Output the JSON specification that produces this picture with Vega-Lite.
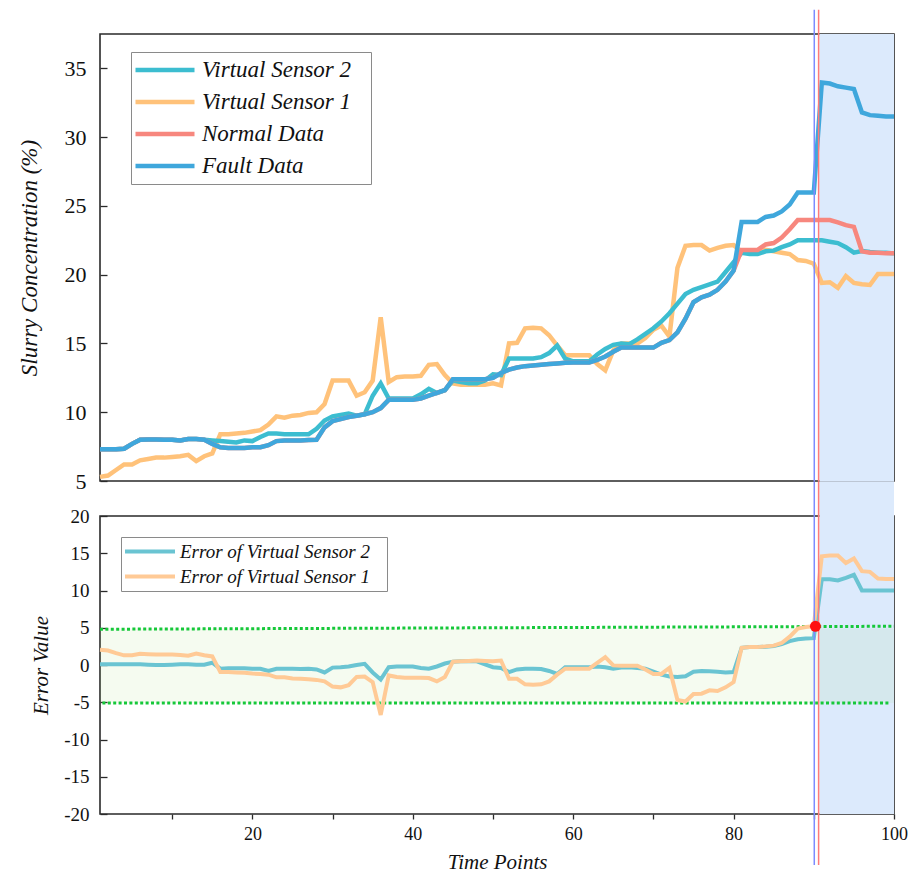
{
  "$schema": "https://vega.github.io/schema/vega-lite/v6.json",
  "padding": {"left": 17, "top": 8, "right": 2, "bottom": 4},
  "background": "white",
  "spacing": 35,
  "bounds": "flush",
  "datasets": {
    "series": [
      {"t":1,"f":7.3,"n":7.3,"s2":7.3,"s1":5.3,"e2":0.1,"e1":2.05},
      {"t":2,"f":7.3,"n":7.3,"s2":7.3,"s1":5.4,"e2":0.1,"e1":1.95},
      {"t":3,"f":7.3,"n":7.3,"s2":7.3,"s1":5.8,"e2":0.1,"e1":1.6},
      {"t":4,"f":7.35,"n":7.35,"s2":7.35,"s1":6.2,"e2":0.1,"e1":1.3},
      {"t":5,"f":7.7,"n":7.7,"s2":7.7,"s1":6.2,"e2":0.1,"e1":1.3},
      {"t":6,"f":8.0,"n":8.0,"s2":8.0,"s1":6.5,"e2":0.1,"e1":1.5},
      {"t":7,"f":8.02,"n":8.02,"s2":8.02,"s1":6.6,"e2":0.05,"e1":1.45},
      {"t":8,"f":8.02,"n":8.02,"s2":8.02,"s1":6.7,"e2":0.0,"e1":1.4},
      {"t":9,"f":8.0,"n":8.0,"s2":8.0,"s1":6.7,"e2":0.0,"e1":1.4},
      {"t":10,"f":8.0,"n":8.0,"s2":8.0,"s1":6.75,"e2":0.05,"e1":1.4},
      {"t":11,"f":7.95,"n":7.95,"s2":7.95,"s1":6.8,"e2":0.1,"e1":1.35},
      {"t":12,"f":8.05,"n":8.05,"s2":8.05,"s1":6.9,"e2":0.1,"e1":1.25},
      {"t":13,"f":8.05,"n":8.05,"s2":8.05,"s1":6.45,"e2":0.05,"e1":1.55},
      {"t":14,"f":8.0,"n":8.0,"s2":8.0,"s1":6.8,"e2":0.05,"e1":1.3},
      {"t":15,"f":7.7,"n":7.7,"s2":7.95,"s1":7.0,"e2":0.3,"e1":1.15},
      {"t":16,"f":7.45,"n":7.45,"s2":7.9,"s1":8.4,"e2":-0.5,"e1":-0.95},
      {"t":17,"f":7.4,"n":7.4,"s2":7.85,"s1":8.4,"e2":-0.45,"e1":-0.95},
      {"t":18,"f":7.4,"n":7.4,"s2":7.8,"s1":8.45,"e2":-0.45,"e1":-1.0},
      {"t":19,"f":7.4,"n":7.4,"s2":7.95,"s1":8.5,"e2":-0.45,"e1":-1.05},
      {"t":20,"f":7.45,"n":7.45,"s2":7.9,"s1":8.6,"e2":-0.5,"e1":-1.15},
      {"t":21,"f":7.45,"n":7.45,"s2":8.2,"s1":8.7,"e2":-0.5,"e1":-1.2},
      {"t":22,"f":7.6,"n":7.6,"s2":8.45,"s1":9.1,"e2":-0.8,"e1":-1.3},
      {"t":23,"f":7.9,"n":7.9,"s2":8.45,"s1":9.7,"e2":-0.5,"e1":-1.65},
      {"t":24,"f":7.95,"n":7.95,"s2":8.4,"s1":9.6,"e2":-0.5,"e1":-1.65},
      {"t":25,"f":7.95,"n":7.95,"s2":8.4,"s1":9.75,"e2":-0.5,"e1":-1.8},
      {"t":26,"f":7.95,"n":7.95,"s2":8.4,"s1":9.8,"e2":-0.55,"e1":-1.85},
      {"t":27,"f":7.98,"n":7.98,"s2":8.4,"s1":9.95,"e2":-0.5,"e1":-1.9},
      {"t":28,"f":8.0,"n":8.0,"s2":8.8,"s1":10.0,"e2":-0.6,"e1":-2.0},
      {"t":29,"f":8.9,"n":8.9,"s2":9.4,"s1":10.6,"e2":-1.0,"e1":-2.2},
      {"t":30,"f":9.35,"n":9.35,"s2":9.7,"s1":12.3,"e2":-0.35,"e1":-2.9},
      {"t":31,"f":9.5,"n":9.5,"s2":9.8,"s1":12.3,"e2":-0.3,"e1":-3.0},
      {"t":32,"f":9.65,"n":9.65,"s2":9.9,"s1":12.3,"e2":-0.2,"e1":-2.7},
      {"t":33,"f":9.75,"n":9.75,"s2":9.75,"s1":11.2,"e2":0.0,"e1":-1.6},
      {"t":34,"f":9.85,"n":9.85,"s2":9.85,"s1":11.45,"e2":0.15,"e1":-1.55},
      {"t":35,"f":10.0,"n":10.0,"s2":11.2,"s1":12.3,"e2":-1.0,"e1":-2.3},
      {"t":36,"f":10.3,"n":10.3,"s2":12.1,"s1":16.9,"e2":-1.95,"e1":-6.7},
      {"t":37,"f":10.9,"n":10.9,"s2":11.0,"s1":12.2,"e2":-0.3,"e1":-1.4},
      {"t":38,"f":10.9,"n":10.9,"s2":11.0,"s1":12.55,"e2":-0.2,"e1":-1.6},
      {"t":39,"f":10.9,"n":10.9,"s2":11.0,"s1":12.6,"e2":-0.2,"e1":-1.7},
      {"t":40,"f":10.9,"n":10.9,"s2":11.0,"s1":12.6,"e2":-0.2,"e1":-1.7},
      {"t":41,"f":11.0,"n":11.0,"s2":11.3,"s1":12.65,"e2":-0.4,"e1":-1.7},
      {"t":42,"f":11.2,"n":11.2,"s2":11.7,"s1":13.45,"e2":-0.5,"e1":-1.75},
      {"t":43,"f":11.4,"n":11.4,"s2":11.4,"s1":13.5,"e2":-0.2,"e1":-2.2},
      {"t":44,"f":11.6,"n":11.6,"s2":11.6,"s1":12.7,"e2":0.2,"e1":-1.6},
      {"t":45,"f":12.4,"n":12.4,"s2":12.3,"s1":12.1,"e2":0.45,"e1":0.45},
      {"t":46,"f":12.4,"n":12.4,"s2":12.2,"s1":12.0,"e2":0.5,"e1":0.5},
      {"t":47,"f":12.4,"n":12.4,"s2":12.1,"s1":12.0,"e2":0.5,"e1":0.55},
      {"t":48,"f":12.4,"n":12.4,"s2":12.1,"s1":12.0,"e2":0.5,"e1":0.6},
      {"t":49,"f":12.4,"n":12.4,"s2":12.3,"s1":12.0,"e2":0.1,"e1":0.55},
      {"t":50,"f":12.5,"n":12.5,"s2":12.75,"s1":12.1,"e2":-0.3,"e1":0.5},
      {"t":51,"f":12.85,"n":12.85,"s2":12.7,"s1":11.95,"e2":-0.4,"e1":0.6},
      {"t":52,"f":13.1,"n":13.1,"s2":13.9,"s1":15.0,"e2":-0.95,"e1":-1.85},
      {"t":53,"f":13.25,"n":13.25,"s2":13.9,"s1":15.05,"e2":-0.6,"e1":-1.85},
      {"t":54,"f":13.35,"n":13.35,"s2":13.9,"s1":16.1,"e2":-0.5,"e1":-2.6},
      {"t":55,"f":13.4,"n":13.4,"s2":13.9,"s1":16.15,"e2":-0.5,"e1":-2.65},
      {"t":56,"f":13.45,"n":13.45,"s2":14.0,"s1":16.1,"e2":-0.55,"e1":-2.6},
      {"t":57,"f":13.5,"n":13.5,"s2":14.3,"s1":15.6,"e2":-0.8,"e1":-2.2},
      {"t":58,"f":13.55,"n":13.55,"s2":14.85,"s1":14.85,"e2":-1.2,"e1":-1.3},
      {"t":59,"f":13.6,"n":13.6,"s2":13.9,"s1":14.15,"e2":-0.3,"e1":-0.5},
      {"t":60,"f":13.62,"n":13.62,"s2":13.7,"s1":14.15,"e2":-0.3,"e1":-0.5},
      {"t":61,"f":13.62,"n":13.62,"s2":13.7,"s1":14.15,"e2":-0.3,"e1":-0.5},
      {"t":62,"f":13.62,"n":13.62,"s2":13.7,"s1":14.15,"e2":-0.3,"e1":-0.5},
      {"t":63,"f":13.8,"n":13.8,"s2":14.2,"s1":13.5,"e2":-0.2,"e1":0.3},
      {"t":64,"f":14.05,"n":14.05,"s2":14.6,"s1":13.05,"e2":-0.3,"e1":1.05},
      {"t":65,"f":14.4,"n":14.4,"s2":14.9,"s1":14.5,"e2":-0.5,"e1":-0.05},
      {"t":66,"f":14.7,"n":14.7,"s2":15.0,"s1":15.0,"e2":-0.35,"e1":-0.1},
      {"t":67,"f":14.7,"n":14.7,"s2":14.95,"s1":15.0,"e2":-0.3,"e1":-0.1},
      {"t":68,"f":14.7,"n":14.7,"s2":15.3,"s1":15.0,"e2":-0.4,"e1":-0.1},
      {"t":69,"f":14.7,"n":14.7,"s2":15.7,"s1":15.4,"e2":-0.5,"e1":-0.6},
      {"t":70,"f":14.7,"n":14.7,"s2":16.1,"s1":16.0,"e2":-0.9,"e1":-1.2},
      {"t":71,"f":15.05,"n":15.05,"s2":16.6,"s1":16.3,"e2":-1.3,"e1":-1.2},
      {"t":72,"f":15.25,"n":15.25,"s2":17.2,"s1":15.5,"e2":-1.55,"e1":-0.4},
      {"t":73,"f":15.8,"n":15.8,"s2":17.9,"s1":20.5,"e2":-1.6,"e1":-4.7},
      {"t":74,"f":16.8,"n":16.8,"s2":18.6,"s1":22.1,"e2":-1.5,"e1":-4.9},
      {"t":75,"f":18.0,"n":18.0,"s2":18.9,"s1":22.15,"e2":-0.9,"e1":-3.9},
      {"t":76,"f":18.35,"n":18.35,"s2":19.1,"s1":22.15,"e2":-0.8,"e1":-3.85},
      {"t":77,"f":18.55,"n":18.55,"s2":19.3,"s1":21.75,"e2":-0.85,"e1":-3.4},
      {"t":78,"f":18.9,"n":18.9,"s2":19.5,"s1":21.95,"e2":-0.9,"e1":-3.5},
      {"t":79,"f":19.5,"n":19.5,"s2":20.2,"s1":22.1,"e2":-1.0,"e1":-3.0},
      {"t":80,"f":20.3,"n":20.3,"s2":20.9,"s1":22.15,"e2":-0.95,"e1":-2.3},
      {"t":81,"f":23.84,"n":21.8,"s2":21.6,"s1":21.65,"e2":2.3,"e1":2.3},
      {"t":82,"f":23.84,"n":21.8,"s2":21.5,"s1":21.6,"e2":2.4,"e1":2.4},
      {"t":83,"f":23.84,"n":21.8,"s2":21.5,"s1":21.6,"e2":2.4,"e1":2.4},
      {"t":84,"f":24.2,"n":22.2,"s2":21.7,"s1":21.8,"e2":2.45,"e1":2.5},
      {"t":85,"f":24.3,"n":22.3,"s2":21.75,"s1":21.7,"e2":2.55,"e1":2.6},
      {"t":86,"f":24.6,"n":22.7,"s2":22.0,"s1":21.6,"e2":2.8,"e1":2.95},
      {"t":87,"f":25.1,"n":23.3,"s2":22.2,"s1":21.5,"e2":3.2,"e1":3.8},
      {"t":88,"f":25.97,"n":23.97,"s2":22.5,"s1":21.06,"e2":3.45,"e1":4.9},
      {"t":89,"f":25.97,"n":23.97,"s2":22.5,"s1":21.0,"e2":3.55,"e1":5.1},
      {"t":90,"f":25.97,"n":23.97,"s2":22.5,"s1":20.8,"e2":3.6,"e1":5.2},
      {"t":91,"f":33.97,"n":23.97,"s2":22.5,"s1":19.4,"e2":11.5,"e1":14.6},
      {"t":92,"f":33.9,"n":23.97,"s2":22.4,"s1":19.45,"e2":11.5,"e1":14.7},
      {"t":93,"f":33.7,"n":23.8,"s2":22.3,"s1":19.05,"e2":11.35,"e1":14.7},
      {"t":94,"f":33.6,"n":23.6,"s2":22.0,"s1":19.9,"e2":11.7,"e1":13.7},
      {"t":95,"f":33.5,"n":23.48,"s2":21.6,"s1":19.4,"e2":12.1,"e1":14.3},
      {"t":96,"f":31.8,"n":21.7,"s2":21.72,"s1":19.3,"e2":10.0,"e1":12.6},
      {"t":97,"f":31.6,"n":21.6,"s2":21.65,"s1":19.25,"e2":10.0,"e1":12.5},
      {"t":98,"f":31.55,"n":21.6,"s2":21.6,"s1":20.05,"e2":10.0,"e1":11.6},
      {"t":99,"f":31.5,"n":21.55,"s2":21.6,"s1":20.05,"e2":10.0,"e1":11.55},
      {"t":100,"f":31.5,"n":21.55,"s2":21.55,"s1":20.05,"e2":10.0,"e1":11.55}
    ],
    "region": [{"start": 90.7, "end": 100, "fault": 90.06, "detect": 90.6}],
    "band": [{"x1": 1, "x2": 100, "lo": -5.1, "hi": 4.9}],
    "limits": [
      {"x1": 1, "y1": 4.8, "x2": 100, "y2": 5.2},
      {"x1": 1.3, "y1": -5.1, "x2": 99.6, "y2": -5.1}
    ],
    "alarm": [{"t": 90.2, "e": 5.2}]
  },
  "vconcat": [
    {
      "width": 794,
      "height": 447,
      "layer": [
        {
          "data": {"name": "region"},
          "mark": {"type": "rect", "color": "#dceafc"},
          "encoding": {
            "x": {"field": "start", "type": "quantitative", "scale": {"domain": [1, 100], "nice": false, "zero": false}, "axis": null},
            "x2": {"field": "end"}
          }
        },
        {
          "data": {"name": "series"},
          "transform": [{"fold": ["s1", "s2", "n", "f"], "as": ["key", "value"]}],
          "encoding": {
            "x": {"field": "t", "type": "quantitative", "axis": null},
            "y": {
              "field": "value", "type": "quantitative",
              "scale": {"domain": [5, 37.5], "nice": false, "zero": false},
              "axis": {
                "values": [5, 10, 15, 20, 25, 30, 35],
                "title": "Slurry Concentration (%)",
                "titleFontSize": 23,
                "titlePadding": 23,
                "labelFontSize": 22,
                "tickSize": -7,
                "labelPadding": 21,
                "labelOverlap": false,
                "domain": false
              }
            },
            "color": {
              "field": "key", "type": "nominal",
              "scale": {"domain": ["s2", "s1", "n", "f"], "range": ["#3cbdd0", "#ffc27a", "#f7877e", "#3fa7dc"]},
              "legend": {
                "title": null,
                "orient": "none",
                "legendX": 31,
                "legendY": 18,
                "symbolType": "stroke",
                "symbolSize": 3481,
                "symbolStrokeWidth": 4.5,
                "labelFont": "Times New Roman",
                "labelFontStyle": "italic",
                "labelFontSize": 23,
                "labelColor": "#111111",
                "labelOffset": 5,
                "labelLimit": 400,
                "clipHeight": 32,
                "rowPadding": 0,
                "padding": 2,
                "strokeColor": "#8a8a8a",
                "fillColor": "white",
                "labelExpr": "({'s2':'Virtual Sensor 2','s1':'Virtual Sensor 1','n':'Normal Data','f':'Fault Data'})[datum.label] + '\u2800'"
              }
            }
          },
          "layer": [
            {"transform": [{"filter": {"field": "key", "equal": "s1"}}], "mark": {"type": "line", "strokeWidth": 4.5}},
            {"transform": [{"filter": {"field": "key", "equal": "s2"}}], "mark": {"type": "line", "strokeWidth": 4.5}},
            {"transform": [{"filter": {"field": "key", "equal": "n"}}], "mark": {"type": "line", "strokeWidth": 4.5}},
            {"transform": [{"filter": {"field": "key", "equal": "f"}}], "mark": {"type": "line", "strokeWidth": 4.5}}
          ]
        },
        {
          "data": {"name": "region"},
          "mark": {"type": "rule", "color": "#7d8bff", "strokeWidth": 1.5},
          "encoding": {
            "x": {"field": "fault", "type": "quantitative", "axis": null},
            "y": {"datum": 39.27},
            "y2": {"datum": 5}
          }
        },
        {
          "data": {"name": "region"},
          "mark": {"type": "rule", "color": "#ff7a7a", "strokeWidth": 1.5},
          "encoding": {
            "x": {"field": "detect", "type": "quantitative", "axis": null},
            "y": {"datum": 39.27},
            "y2": {"datum": 5}
          }
        }
      ]
    },
    {
      "width": 794,
      "height": 298,
      "encoding": {
        "x": {
          "type": "quantitative",
          "scale": {"domain": [1, 100], "nice": false, "zero": false},
          "axis": {
            "values": [10, 20, 30, 40, 50, 60, 70, 80, 90, 100],
            "labelExpr": "datum.value % 20 == 0 ? datum.label : ''",
            "title": "Time Points",
            "titleFontSize": 21,
            "titlePadding": 8,
            "labelFontSize": 18,
            "labelFlush": false,
            "labelOverlap": false,
            "tickSize": 5,
            "labelPadding": 6,
            "domain": false
          }
        },
        "y": {
          "type": "quantitative",
          "scale": {"domain": [-20, 20], "nice": false, "zero": false},
          "axis": {
            "values": [-20, -15, -10, -5, 0, 5, 10, 15, 20],
            "labelExpr": "toString(datum.value)",
            "title": "Error Value",
            "titleFontSize": 21,
            "titlePadding": 12,
            "labelFontSize": 19,
            "labelOverlap": false,
            "labelSeparation": 0,
            "tickSize": -7,
            "labelPadding": 18,
            "domain": false
          }
        }
      },
      "layer": [
        {
          "data": {"name": "region"},
          "mark": {"type": "rect", "color": "#dceafc"},
          "encoding": {
            "x": {"field": "start"},
            "x2": {"field": "end"},
            "y": {"datum": -20},
            "y2": {"datum": 24.66}
          }
        },
        {
          "data": {"name": "band"},
          "mark": {"type": "rect", "color": "#9fd36b", "opacity": 0.1},
          "encoding": {
            "x": {"field": "x1"},
            "x2": {"field": "x2"},
            "y": {"field": "lo"},
            "y2": {"field": "hi"}
          }
        },
        {
          "data": {"name": "limits"},
          "mark": {"type": "rule", "color": "#16c83a", "strokeWidth": 3, "strokeDash": [3, 2.4], "strokeCap": "butt"},
          "encoding": {
            "x": {"field": "x1"},
            "x2": {"field": "x2"},
            "y": {"field": "y1"},
            "y2": {"field": "y2"}
          }
        },
        {
          "data": {"name": "series"},
          "transform": [{"fold": ["e2", "e1"], "as": ["key", "value"]}],
          "encoding": {
            "x": {"field": "t"},
            "y": {"field": "value"},
            "color": {
              "field": "key", "type": "nominal",
              "scale": {"domain": ["e2", "e1"], "range": ["#6ac4d2", "#ffca96"]},
              "legend": {
                "title": null,
                "orient": "none",
                "legendX": 21,
                "legendY": 21,
                "symbolType": "stroke",
                "symbolSize": 2500,
                "symbolStrokeWidth": 4,
                "labelFont": "Times New Roman",
                "labelFontStyle": "italic",
                "labelFontSize": 19,
                "labelColor": "#111111",
                "labelOffset": 3,
                "labelLimit": 400,
                "clipHeight": 25,
                "rowPadding": 0,
                "padding": 2,
                "strokeColor": "#8a8a8a",
                "fillColor": "white",
                "labelExpr": "({'e2':'Error of Virtual Sensor 2','e1':'Error of Virtual Sensor 1'})[datum.label] + '\u2800'"
              }
            }
          },
          "layer": [
            {"transform": [{"filter": {"field": "key", "equal": "e2"}}], "mark": {"type": "line", "strokeWidth": 4}},
            {"transform": [{"filter": {"field": "key", "equal": "e1"}}], "mark": {"type": "line", "strokeWidth": 4}}
          ]
        },
        {
          "data": {"name": "region"},
          "mark": {"type": "rule", "color": "#7d8bff", "strokeWidth": 1.5},
          "encoding": {
            "x": {"field": "fault"},
            "y": {"datum": 24.66},
            "y2": {"datum": -26.85}
          }
        },
        {
          "data": {"name": "region"},
          "mark": {"type": "rule", "color": "#ff7a7a", "strokeWidth": 1.5},
          "encoding": {
            "x": {"field": "detect"},
            "y": {"datum": 24.66},
            "y2": {"datum": -26.85}
          }
        },
        {
          "data": {"name": "alarm"},
          "mark": {"type": "point", "filled": true, "color": "#ff1010", "opacity": 1, "size": 120},
          "encoding": {
            "x": {"field": "t"},
            "y": {"field": "e"}
          }
        }
      ]
    }
  ],
  "resolve": {"scale": {"color": "independent"}, "legend": {"color": "independent"}},
  "config": {
    "font": "Times New Roman",
    "view": {"stroke": "#2a2a2a", "strokeWidth": 1.6},
    "axis": {
      "grid": false,
      "labelOverlap": false,
      "domainColor": "#2a2a2a",
      "tickColor": "#2a2a2a",
      "tickWidth": 1.3,
      "labelFont": "Times New Roman",
      "labelColor": "#111111",
      "titleFont": "Times New Roman",
      "titleFontStyle": "italic",
      "titleFontWeight": "normal",
      "titleColor": "#111111"
    }
  }
}
